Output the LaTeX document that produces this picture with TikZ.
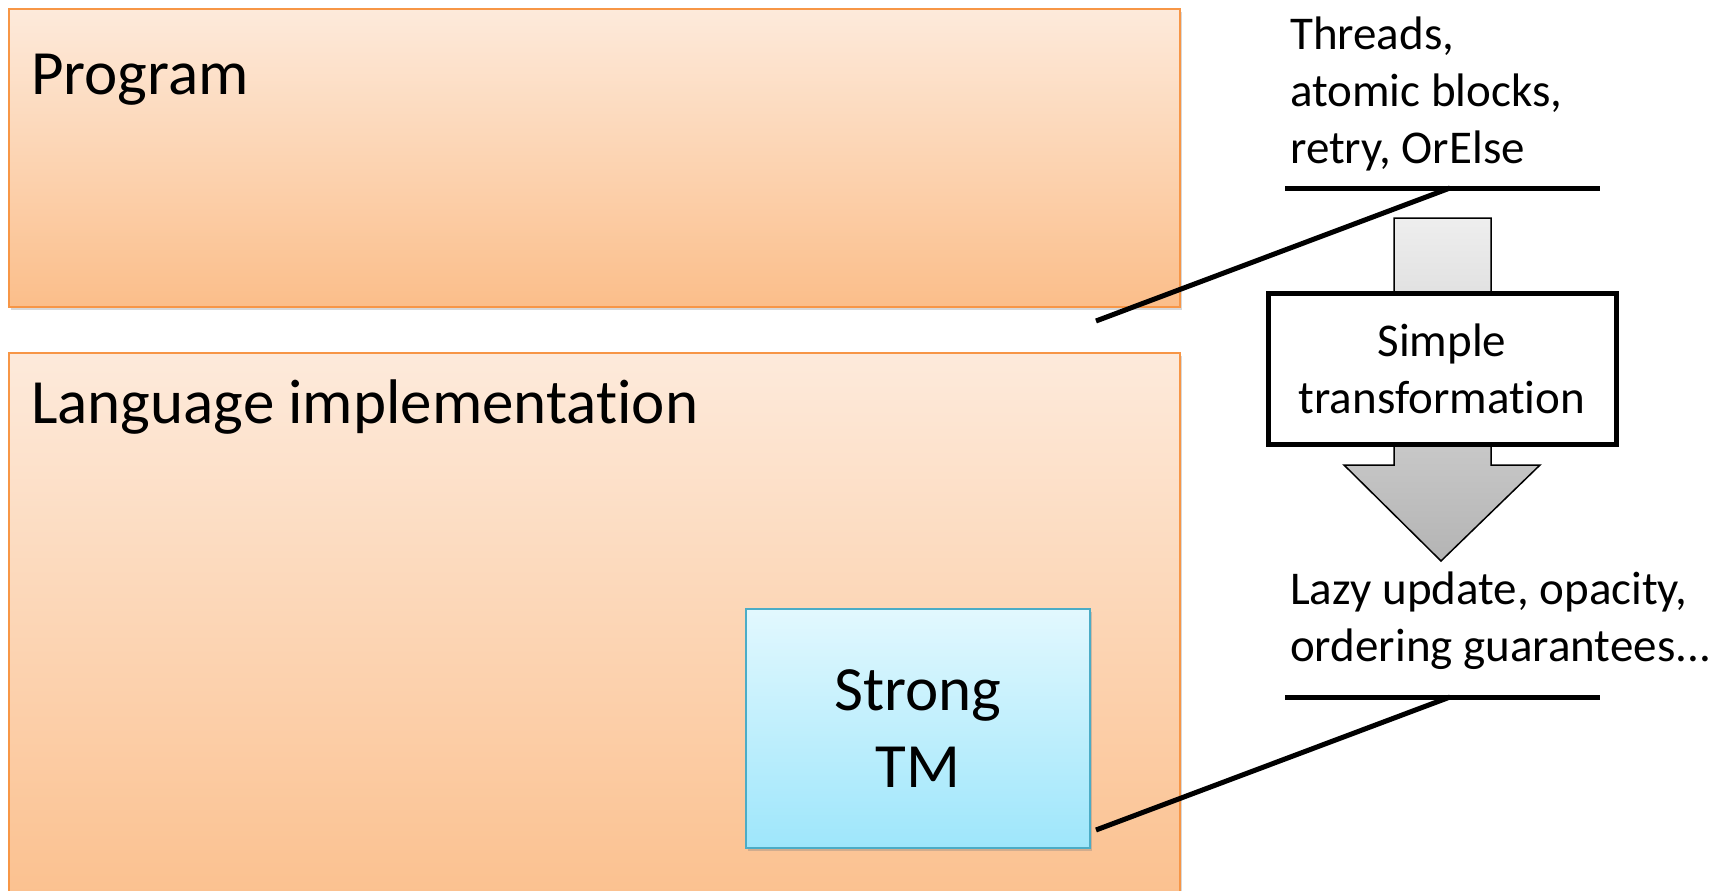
\documentclass[tikz,border=0pt]{standalone}
\usepackage{fontspec}
\setmainfont{Carlito}[Ligatures=NoCommon]
\usetikzlibrary{shadows}
\definecolor{peachtop}{RGB}{253,234,219}
\definecolor{peachbot}{RGB}{251,190,138}
\definecolor{orangeline}{RGB}{247,150,70}
\definecolor{bluetop}{RGB}{226,248,254}
\definecolor{bluebot}{RGB}{158,230,251}
\definecolor{blueline}{RGB}{75,172,198}
\definecolor{arrowtop}{RGB}{238,238,238}
\definecolor{arrowbot}{RGB}{180,180,180}
\tikzset{
  layerbox/.style={draw=orangeline, line width=2pt, top color=peachtop, bottom color=peachbot,
     drop shadow={shadow xshift=2pt, shadow yshift=-3pt, opacity=.3}},
  tmbox/.style={draw=blueline, line width=2pt, top color=bluetop, bottom color=bluebot,
     drop shadow={shadow xshift=2pt, shadow yshift=-3pt, opacity=.35}},
  bigtext/.style={font=\fontsize{63}{77}\selectfont, inner sep=0pt},
  sidetext/.style={font=\fontsize{47}{57}\selectfont, inner sep=0pt, align=left},
  rule/.style={line width=5pt, black},
  transbox/.style={draw=black, line width=5pt, fill=white, minimum width=348pt, minimum height=151pt,
     inner sep=0pt, align=center, font=\fontsize{47}{57}\selectfont},
}
\begin{document}
\begin{tikzpicture}[x=1pt, y=-1pt]
\useasboundingbox (0,0) rectangle (1732,891);
\clip (0,0) rectangle (1732,891);
\fill[white] (0,0) rectangle (1732,891);
% layer boxes
\path[layerbox] (9,9) rectangle (1180,307);
\path[layerbox] (9,353) rectangle (1180,935);
\node[bigtext, anchor=base west] (prog) at (31,94) {Program};
\node[bigtext, anchor=base west] (lang) at (31,423) {Language implementation};
% strong TM
\path[tmbox] (746,609) rectangle (1090,848);
\node[bigtext, align=center, anchor=base] (tm) at (918,787) {Strong\\TM};
\coordinate (tmr) at (1096,830);
% arrow
\path[draw=black, line width=1.5pt, top color=arrowtop, bottom color=arrowbot]
  (1394,218) -- (1491,218) -- (1491,465) -- (1540,465) -- (1441,561) -- (1344,465) -- (1394,465) -- cycle;
\node[transbox] (trans) at (1442,368.5) {Simple\\transformation};
% side texts
\node[sidetext, anchor=base west] (top) at (1290,163) {Threads,\\atomic blocks,\\retry, OrElse};
\node[sidetext, anchor=base west] (bot) at (1290,661) {Lazy update, opacity,\\ordering guarantees...};
% rules and leaders
\coordinate (tl1) at (1285,188);
\coordinate (tr1) at (1600,188);
\coordinate (tm1) at (1450,188);
\coordinate (te1) at (1096,321);
\coordinate (tl2) at (1285,697);
\coordinate (tr2) at (1600,697);
\coordinate (tm2) at (1450,697);
\draw[rule] (tl1) -- (tr1);
\draw[rule] (tm1) -- (te1);
\draw[rule] (tl2) -- (tr2);
\draw[rule] (tm2) -- (tmr);
\end{tikzpicture}
\end{document}
